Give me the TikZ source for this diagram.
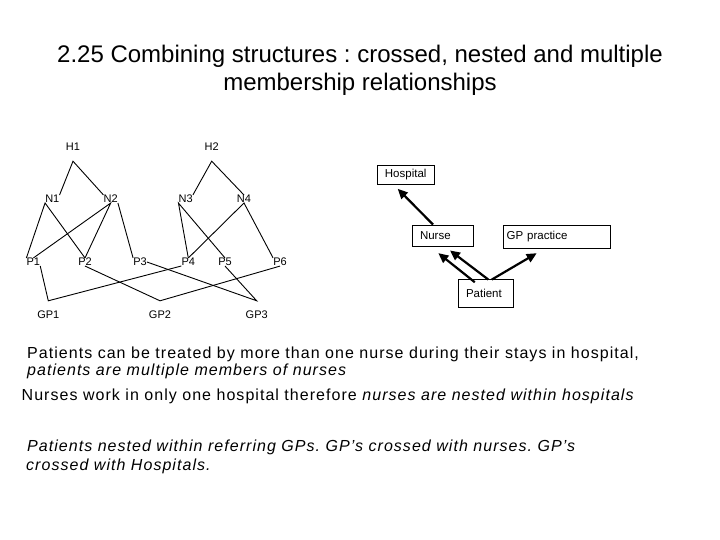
\documentclass[tikz,border=0pt]{standalone}
\usepackage{fontspec}
\setmainfont{Liberation Sans}
\usetikzlibrary{arrows.meta}
\frenchspacing
\newcommand\bodyfont{\fontsize{16}{19}\selectfont\addfontfeature{LetterSpace=6.5}}
\tikzset{
  lbl/.style={inner sep=0pt, font=\fontsize{11}{13}\selectfont},
  hlbl/.style={lbl, minimum height=28pt},
  box/.style={draw, line width=0.9pt, inner sep=0pt, align=left,
    font=\fontsize{11.5}{14}\selectfont},
  link/.style={line width=0.9pt},
  arr/.style={line width=2.2pt, -{Triangle[length=10pt,width=9pt]}},
  txt/.style={anchor=base west, inner sep=0pt, font=\bodyfont},
}
\begin{document}
\begin{tikzpicture}[x=1pt,y=-1pt]
\path[fill=white] (0,0) rectangle (720,540);
\useasboundingbox (0,0) rectangle (720,540);
% title
\node[anchor=base, inner sep=0pt, font=\fontsize{24}{29}\selectfont] (title1) at (360,62.3)
  {2.25 Combining structures : crossed, nested and multiple};
\node[anchor=base, inner sep=0pt, font=\fontsize{24}{29}\selectfont] (title2) at (360,91)
  {membership relationships};
% hospitals
\node[hlbl] (H1) at (73,147) {H1};
\node[hlbl] (H2) at (211.7,147) {H2};
% nurses
\node[lbl] (N1) at (52.3,199) {N1};
\node[lbl] (N2) at (110.7,199) {N2};
\node[lbl] (N3) at (185.7,199) {N3};
\node[lbl] (N4) at (244,199) {N4};
% patients
\node[lbl] (P1) at (33.3,262) {P1};
\node[lbl] (P2) at (85,262) {P2};
\node[lbl] (P3) at (140,262) {P3};
\node[lbl] (P4) at (188.3,262) {P4};
\node[lbl] (P5) at (225,262) {P5};
\node[lbl] (P6) at (280,262) {P6};
% GPs
\node[hlbl] (GP1) at (48.3,315) {GP1};
\node[hlbl] (GP2) at (160,315) {GP2};
\node[hlbl] (GP3) at (256.7,315) {GP3};
% nurses within hospitals
\draw[link] (N1.north east) -- (H1.south) -- (N2.north west);
\draw[link] (N3.north east) -- (H2.south) -- (N4.north);
% patients and their nurses
\draw[link] (P1.north west) -- (N1.south west) -- (P2.north);
\draw[link] (P1.north) -- (N2.south) -- (P2.north);
\draw[link] (N2.south east) -- (P3.north west);
\draw[link] (P4.north) -- (N3.south west) -- (P5.north);
\draw[link] (P4.north) -- (N4.south) -- (P6.north west);
% patients and their GPs
\draw[link] (P1.south east) -- (GP1.north) -- (P4.south west);
\draw[link] (P2.south) -- (GP2.north) -- (P6.south);
\draw[link] (P3.east) -- (GP3.north) -- (P5.south);
% boxes
\node[box, minimum width=56.7pt, minimum height=19.3pt, align=center] (hospital) at (405.7,174.7) {Hospital};
\node[box, text width=46pt, inner xsep=7.3pt, minimum height=21pt] (nurse) at (443,235.5) {Nurse};
\node[box, text width=100.6pt, inner xsep=3.4pt, minimum height=23.3pt] (gppractice) at (557,236.7) {GP practice};
\node[box, text width=39.6pt, inner xsep=7.7pt, minimum height=28pt] (patient) at (485.8,293.3) {Patient};
% arrows between boxes
\draw[arr] ([xshift=-10pt]nurse.north) -- ([xshift=-8pt,yshift=-4pt]hospital.south);
\draw[arr] ([xshift=-11pt,yshift=-3.4pt]patient.north) -- ([xshift=-4.7pt,yshift=-6.7pt]nurse.south);
\draw[arr] ([xshift=2.5pt,yshift=-0.7pt]patient.north) -- ([xshift=7pt,yshift=-4pt]nurse.south);
\draw[arr] ([xshift=6pt,yshift=-0.7pt]patient.north) -- ([xshift=-20.3pt,yshift=-4.4pt]gppractice.south);
% text
\node[txt] (txt1) at (27,358.3) {Patients can be treated by more than one nurse during their stays in hospital,};
\node[txt] (txt2) at (27,375.5) {\itshape patients are multiple members of nurses};
\node[txt] (txt3) at (21.5,400) {Nurses work in only one hospital therefore \textit{nurses are nested within hospitals}};
\node[txt] (txt4) at (27,451.5) {\itshape Patients nested within referring GPs. GP’s crossed with nurses. GP’s};
\node[txt] (txt5) at (26,470) {\itshape crossed with Hospitals.};
\end{tikzpicture}
\end{document}
